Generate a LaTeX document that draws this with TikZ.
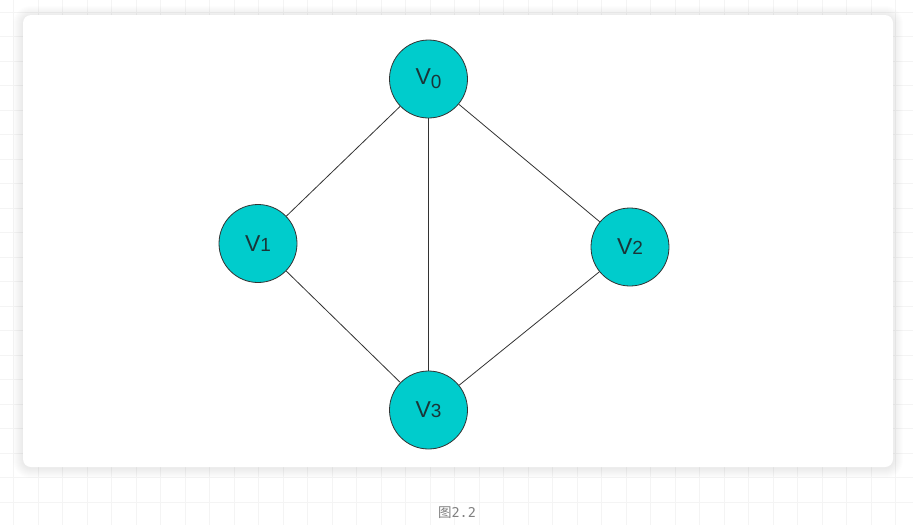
\documentclass[tikz,border=0pt]{standalone}
\usepackage{fontspec}
\setmainfont{Liberation Sans}
\newfontfamily\cjk{Noto Sans CJK SC}
\newfontfamily\capmono{DejaVu Sans Mono}
\definecolor{nodefill}{HTML}{00CCCC}
\definecolor{gridc}{HTML}{F4F4F4}
\definecolor{edgec}{HTML}{333333}
\definecolor{textc}{HTML}{1A3538}
\tikzset{
  vert/.style={circle, draw=edgec, line width=0.8pt, fill=nodefill, minimum size=78pt, inner sep=0pt, text=textc, font=\fontsize{23}{25}\selectfont},
  edge/.style={draw=edgec, line width=0.8pt},
  card/.style={fill=white, rounded corners=8pt}
}
\newcommand{\vlab}[2]{V\raisebox{#2}{\fontsize{19}{20}\selectfont #1}}
\begin{document}
\begin{tikzpicture}[x=1pt,y=-1pt]
\useasboundingbox (0,0) rectangle (913,525);
\fill[white] (0,0) rectangle (913,525);
\foreach \gx in {13.5,38,...,913} \draw[gridc, line width=0.6pt] (\gx,0) -- (\gx,525);
\foreach \gy in {12,36.5,...,525} \draw[gridc, line width=0.6pt] (0,\gy) -- (913,\gy);
\foreach \s in {1,...,10} {
  \pgfmathsetmacro{\rr}{8+\s}
  \fill[black, opacity=0.009, rounded corners=\rr pt] (23-\s,15-\s+1) rectangle (893+\s,467+\s+1);
}
\path[card] (23,15) rectangle (893,467);
\node[vert] (v0) at (428.5,79) {\vlab{0}{-4pt}};
\node[vert] (v1) at (258,243.5) {\vlab{1}{0pt}};
\node[vert] (v2) at (630,247) {\vlab{2}{0pt}};
\node[vert] (v3) at (428.5,410) {\vlab{3}{0pt}};
\path[edge] (v0) -- (v1);
\path[edge] (v0) -- (v3);
\path[edge] (v0) -- (v2);
\path[edge] (v1) -- (v3);
\path[edge] (v2) -- (v3);
\node[text=black!50, inner sep=0pt] (cap) at (457,513) {{\cjk\fontsize{13.5}{15}\selectfont 图}{\capmono\fontsize{13.5}{15}\selectfont 2.2}};
\end{tikzpicture}
\end{document}
